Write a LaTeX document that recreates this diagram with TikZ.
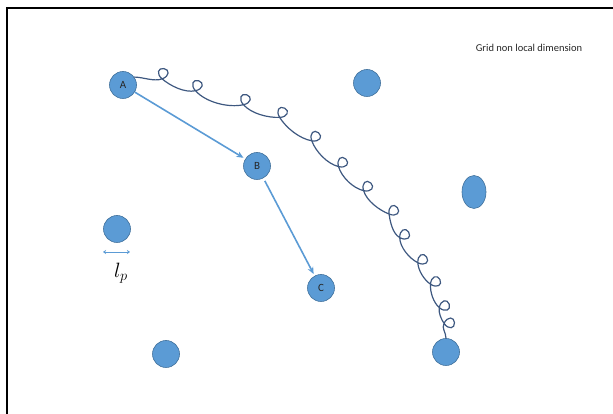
\documentclass[tikz,border=0pt]{standalone}
\usepackage{fontspec}
\setmainfont{Carlito}
\usepackage{tikz}
\usetikzlibrary{arrows.meta, positioning, calc, shapes.geometric}
\definecolor{dotblue}{RGB}{91,155,213}
\definecolor{dotedge}{RGB}{65,113,156}
\definecolor{coilblue}{RGB}{62,88,128}

\begin{document}
\begin{tikzpicture}[x=1pt, y=1pt,
    nd/.style={circle, fill=dotblue, draw=dotedge, line width=0.6pt, minimum size=27pt, inner sep=0pt, font=\fontsize{11}{13}\selectfont, text=black!85},
    ndo/.style={ellipse, fill=dotblue, draw=dotedge, line width=0.6pt, minimum width=24pt, minimum height=33pt, inner sep=0pt},
    flow/.style={-{Stealth[length=7pt, width=6pt]}, dotblue, line width=1.6pt},
    spring/.style={coilblue, line width=1.2pt, line cap=round}]
    \useasboundingbox (0,0) rectangle (613,414);
    \draw[line width=2pt] (6.5,0) -- (6.5,405.5) -- (613,405.5);
    \node[nd] (nA) at (123,329) {A};
    \node[nd] (nB) at (257,248) {B};
    \node[nd] (nC) at (321,126) {C};
    \node[nd] (nTop) at (367,331) {};
    \node[ndo] (nRight) at (474,222) {};
    \node[nd] (nLeft) at (117,185) {};
    \node[nd] (nBotL) at (166,60) {};
    \node[nd] (nBotR) at (446,62) {};
    \draw[flow, shorten >=2pt] (nA) -- (nB);
    \draw[flow, shorten <=3pt, shorten >=2pt] (nB) -- (nC);
    % length scale under the left dot
    \coordinate (lpL) at (103,162);
    \coordinate (lpR) at (130,162);
    \draw[{Stealth[length=3pt, width=4pt]}-{Stealth[length=3pt, width=4pt]}, dotblue, line width=0.8pt] (lpL) -- (lpR);
    \node[font=\fontsize{21}{25}\selectfont] (lp) at (121,141) {$l_p$};
    \node[font=\fontsize{10.5}{12}\selectfont, text=black!85] (title) at (529,366) {Grid non local dimension};
    % curly path from A down to the bottom right dot
    \draw[spring] (nA.35)
        \foreach \x/\y/\d [evaluate=\d as \dout using \d-30,
                           evaluate=\d as \din using \d-150,
                           evaluate=\d as \dup using \d+30,
                           evaluate=\d as \dback using \d+150,
                           evaluate=\d as \dtop using \d+90,
                           evaluate=\d as \dbwd using \d+180,
                           evaluate=\d as \dside using \d-90,
                           remember=\dout as \dprev (initially 0)]
            in {163/340/-10, 197/328/-18, 245/314/-18, 282/301/-28, 315/277/-40, 342/251/-44, 367/227/-43, 393/203/-52, 404/179/-59, 422/154/-57, 435/132/-64, 444/108/-71, 449/91/-86} {
            to[out=\dprev, in=\din, looseness=0.8] ($(\x,\y)+(\dside:5)$) coordinate (kink)
            .. controls ($(kink)+(\dup:8)$) and ($(kink)+(\dtop:10.5)+(\d:6)$) .. ($(kink)+(\dtop:10.5)$) coordinate (crest)
            .. controls ($(crest)+(\dbwd:6)$) and ($(kink)+(\dback:8)$) .. (kink)
        }
        to[out=-116, in=90] (nBotR.north);
\end{tikzpicture}
\end{document}
